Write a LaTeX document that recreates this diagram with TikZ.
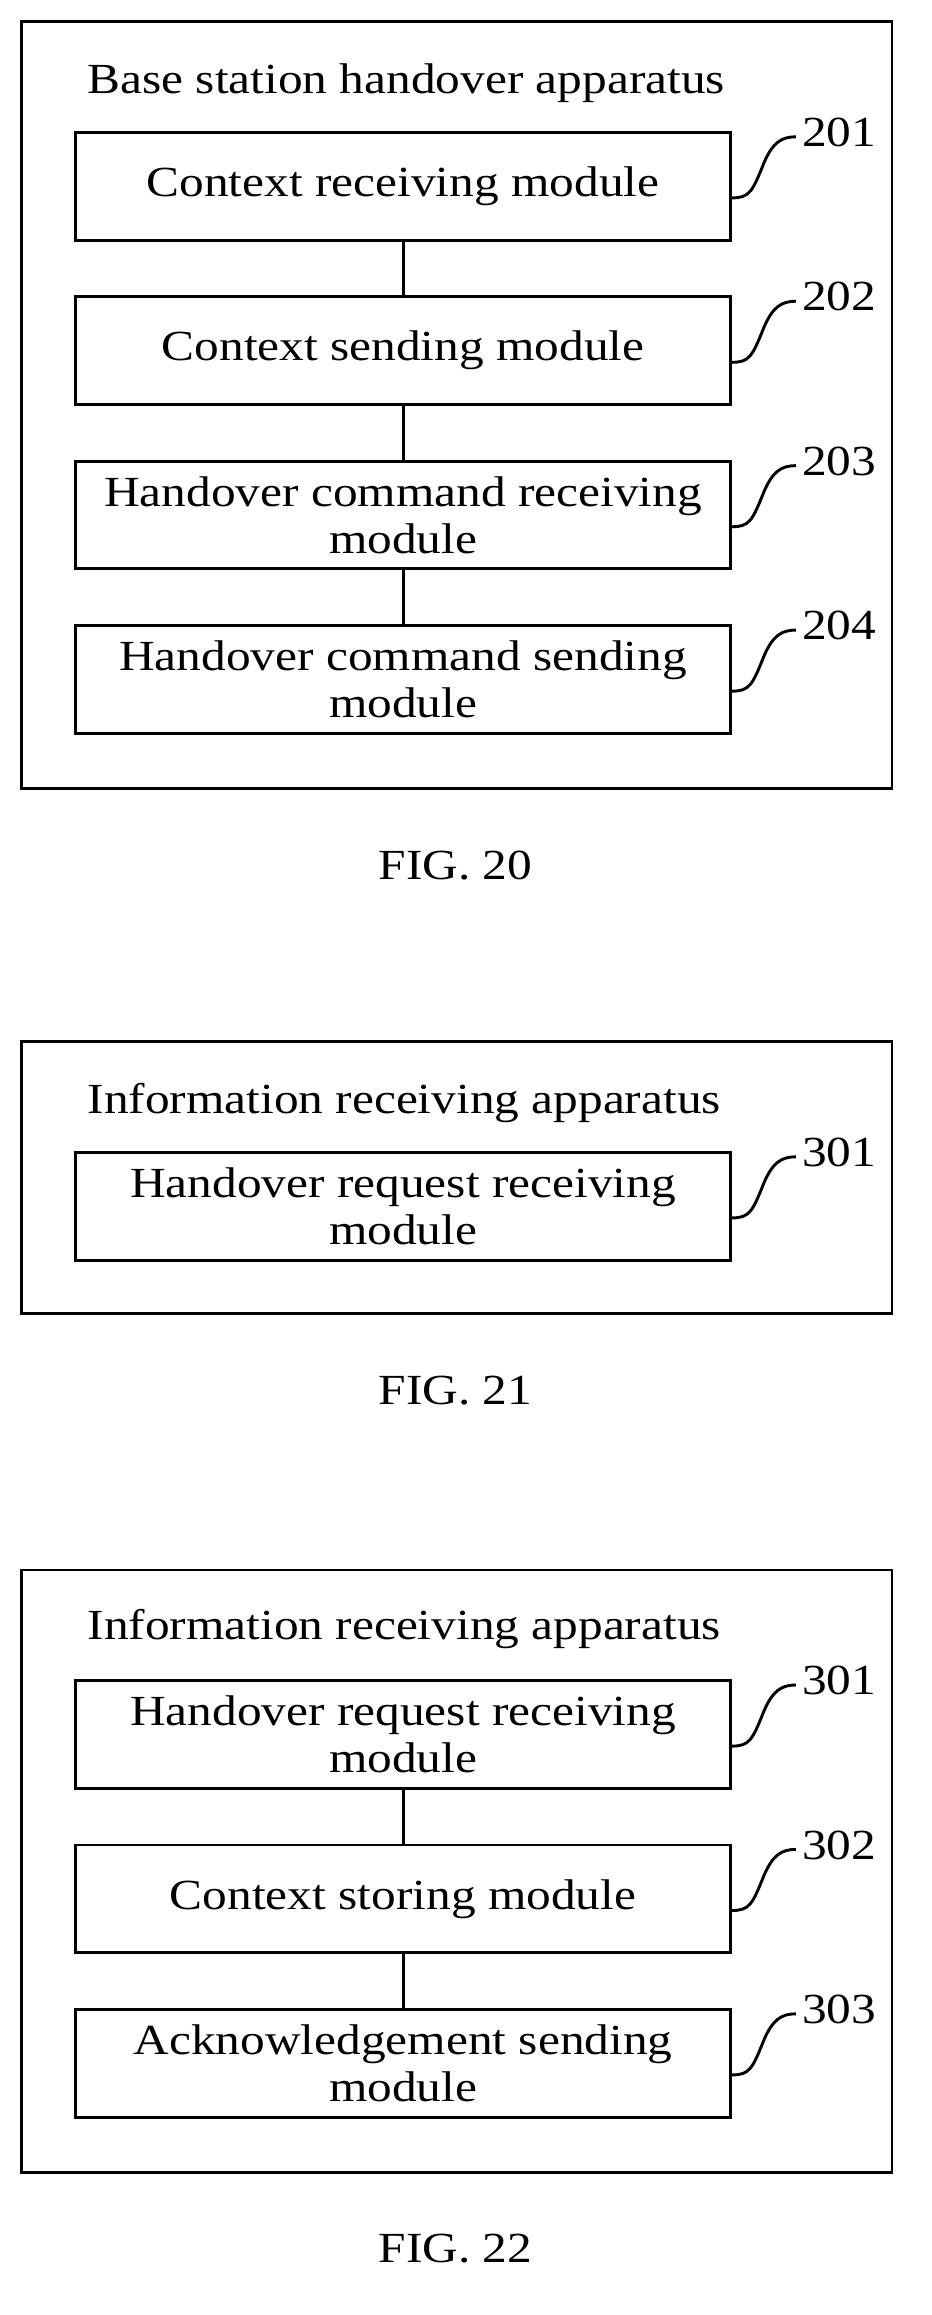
\documentclass[tikz,border=0pt]{standalone}
\usepackage{fontspec}
\setmainfont[FakeStretch=1.15]{Liberation Serif}
\usetikzlibrary{calc}
\begin{document}
\begin{tikzpicture}[x=1pt,y=-1pt,
  outer/.style={draw,line width=2pt},
  mod/.style={draw,line width=2pt,minimum width=450pt,minimum height=74pt,align=center,inner sep=0pt,font=\fontsize{29.5}{32}\selectfont},
  ttl/.style={anchor=base west,font=\fontsize{29.5}{32}\selectfont,inner sep=0pt},
  num/.style={anchor=west,font=\fontsize{29.5}{32}\selectfont,inner sep=0pt},
  fig/.style={font=\fontsize{29.5}{32}\selectfont,inner sep=0pt},
  lk/.style={line width=2pt},
  lead/.style={line width=2pt}]
\useasboundingbox (0,0) rectangle (640,1591);
\newcommand{\leader}[3]{%
  \draw[lead] (#1.east) ++(0,8) .. controls +(12,0) and +(-8,20) .. ++(22,-24) .. controls +(6,-14) and +(-10,0) .. ++(22,-18) coordinate (#1e);
  \node[num] (#2) at ($(#1e)+(4,-3)$) {#3};}
% FIG 20
\node[outer,minimum width=598pt,minimum height=527pt,inner sep=0pt] (o20) at (314,278.5) {};
\node[ttl] (t20) at (60,64) {Base station handover apparatus};
\node[mod] (a1) at (277,128) {Context receiving module};
\node[mod] (a2) at (277,241) {Context sending module};
\node[mod] (a3) at (277,354) {Handover command receiving\\module};
\node[mod] (a4) at (277,467) {Handover command sending\\module};
\draw[lk] (a1) -- (a2); \draw[lk] (a2) -- (a3); \draw[lk] (a3) -- (a4);
\leader{a1}{n201}{201}
\leader{a2}{n202}{202}
\leader{a3}{n203}{203}
\leader{a4}{n204}{204}
\node[fig] (f20) at (313,595) {FIG. 20};
% FIG 21
\node[outer,minimum width=598pt,minimum height=187pt,inner sep=0pt] (o21) at (314,809.5) {};
\node[ttl] (t21) at (60,765) {Information receiving apparatus};
\node[mod] (b1) at (277,829) {Handover request receiving\\module};
\leader{b1}{n301a}{301}
\node[fig] (f21) at (313,956) {FIG. 21};
% FIG 22
\node[outer,minimum width=598pt,minimum height=414pt,inner sep=0pt] (o22) at (314,1286) {};
\node[ttl] (t22) at (60,1127) {Information receiving apparatus};
\node[mod] (c1) at (277,1192) {Handover request receiving\\module};
\node[mod] (c2) at (277,1305) {Context storing module};
\node[mod] (c3) at (277,1418) {Acknowledgement sending\\module};
\draw[lk] (c1) -- (c2); \draw[lk] (c2) -- (c3);
\leader{c1}{n301}{301}
\leader{c2}{n302}{302}
\leader{c3}{n303}{303}
\node[fig] (f22) at (313,1545) {FIG. 22};
\end{tikzpicture}
\end{document}
